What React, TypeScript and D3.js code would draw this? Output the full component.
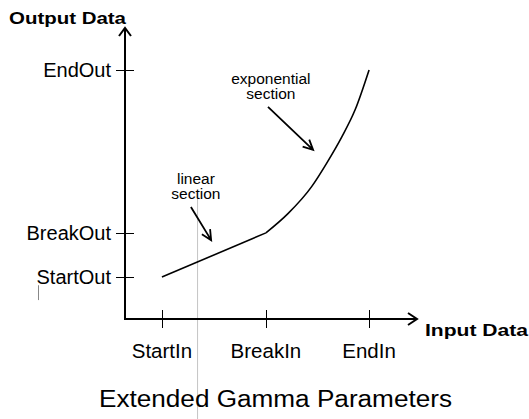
import React, { useRef, useEffect } from 'react'
import * as d3 from 'd3'

// axis tick labels and where they sit (data units, 0..100 on both axes)
const inputLabels = ['StartIn', 'BreakIn', 'EndIn']
const inputValues = [12.6, 48.1, 83.3]
const outputLabels = ['StartOut', 'BreakOut', 'EndOut']
const outputValues = [14.4, 29.6, 85.6]

// linear section: StartIn/StartOut -> BreakIn/BreakOut
const linearIn = [12.6, 48.1]
const linearOut = [14.4, 29.6]

// exponential section: BreakIn/BreakOut -> EndIn/EndOut
const expIn = [48.1, 55.7, 63.7, 68.8, 74.0, 78.5, 83.3]
const expOut = [29.6, 36.3, 45.5, 53.5, 62.6, 71.8, 85.6]

// callouts: text lines, label centre, arrow from -> to (data units)
const notes = [
  { lines: ['linear', 'section'], lx: 24.2, ly: 46.4, from: [22.5, 38.5], to: [29.4, 27.1] },
  { lines: ['exponential', 'section'], lx: 49.8, ly: 80.9, from: [48.8, 72.9], to: [64.2, 58.1] },
]

const title = 'Extended Gamma Parameters'

export default function App() {
  const svgEl = useRef<SVGSVGElement | null>(null)

  useEffect(() => {
    if (!svgEl.current) return
    const width = 529
    const height = 419
    const svg = d3.select(svgEl.current)
    svg.selectAll('*').remove()
    svg.append('rect').attr('width', width).attr('height', height).attr('fill', '#fff')

    const x = d3.scaleLinear().domain([0, 100]).range([125, 418])
    const y = d3.scaleLinear().domain([0, 100]).range([319, 28])
    const font = 'Liberation Sans, Arial, Helvetica, sans-serif'

    // stray grey guide lines from the original drawing
    svg.append('line')
      .attr('x1', x(24.6) + 0.5).attr('x2', x(24.6) + 0.5)
      .attr('y1', y(42.3)).attr('y2', height)
      .attr('stroke', '#c4c4c4').attr('stroke-width', 1)
    svg.append('line')
      .attr('x1', 38.5).attr('x2', 38.5)
      .attr('y1', y(11.6)).attr('y2', y(6.5))
      .attr('stroke', '#888').attr('stroke-width', 1)

    // axes
    const axes = svg.append('g').attr('stroke', '#000').attr('fill', 'none')
    axes.append('line').attr('x1', x(0)).attr('y1', y(0)).attr('x2', x(0)).attr('y2', y(100)).attr('stroke-width', 2)
    axes.append('line').attr('x1', x(0) - 1).attr('y1', y(0)).attr('x2', x(100) - 1).attr('y2', y(0)).attr('stroke-width', 2)
    axes.append('path')
      .attr('d', `M${x(0) - 6},${y(100) + 8}L${x(0)},${y(100)}L${x(0) + 6},${y(100) + 8}`)
      .attr('stroke-width', 2)
    axes.append('path')
      .attr('d', `M${x(100) - 10},${y(0) - 6}L${x(100) - 1},${y(0)}L${x(100) - 10},${y(0) + 6}`)
      .attr('stroke-width', 2)

    // ticks crossing the axes
    axes.selectAll('.xt').data(inputValues).enter().append('line')
      .attr('x1', d => Math.round(x(d)) + 0.5).attr('x2', d => Math.round(x(d)) + 0.5)
      .attr('y1', y(0) - 9).attr('y2', y(0) + 9).attr('stroke-width', 1)
    axes.selectAll('.yt').data(outputValues).enter().append('line')
      .attr('y1', d => Math.round(y(d)) + 0.5).attr('y2', d => Math.round(y(d)) + 0.5)
      .attr('x1', x(0) - 9).attr('x2', x(0) + 9).attr('stroke-width', 1)

    svg.selectAll('.xl').data(inputLabels).enter().append('text')
      .attr('x', (d, i) => x(inputValues[i]))
      .attr('y', 358)
      .attr('text-anchor', 'middle')
      .attr('font-family', font).attr('font-size', 20.5)
      .text(d => d)
    svg.selectAll('.yl').data(outputLabels).enter().append('text')
      .attr('x', 111)
      .attr('y', (d, i) => y(outputValues[i]))
      .attr('dy', '0.34em')
      .attr('text-anchor', 'end')
      .attr('font-family', font).attr('font-size', 20)
      .text(d => d)

    // axis names
    svg.append('text').attr('x', 9).attr('y', 24)
      .attr('font-family', font).attr('font-weight', 'bold').attr('font-size', 17)
      .attr('textLength', 117).attr('lengthAdjust', 'spacingAndGlyphs')
      .text('Output Data')
    svg.append('text').attr('x', 425).attr('y', 336)
      .attr('font-family', font).attr('font-weight', 'bold').attr('font-size', 17)
      .attr('textLength', 103).attr('lengthAdjust', 'spacingAndGlyphs')
      .text('Input Data')

    // the gamma curve
    const lin = d3.line<number>().x(d => x(d)).y((d, i) => y(linearOut[i]))
    svg.append('path').attr('d', lin(linearIn))
      .attr('fill', 'none').attr('stroke', '#000').attr('stroke-width', 1.6)
    const expo = d3.line<number>().x(d => x(d)).y((d, i) => y(expOut[i])).curve(d3.curveMonotoneX)
    svg.append('path').attr('d', expo(expIn))
      .attr('fill', 'none').attr('stroke', '#000').attr('stroke-width', 1.6)

    // callouts
    notes.forEach(n => {
      const t = svg.append('text')
        .attr('x', x(n.lx)).attr('y', y(n.ly))
        .attr('text-anchor', 'middle')
        .attr('font-family', font).attr('font-size', 15.5)
      n.lines.forEach((l, i) => {
        t.append('tspan').attr('x', x(n.lx)).attr('dy', i === 0 ? 0 : 15.5).text(l)
      })
      const x1 = x(n.from[0]), y1 = y(n.from[1])
      const x2 = x(n.to[0]), y2 = y(n.to[1])
      const a = Math.atan2(y2 - y1, x2 - x1)
      const h = 11, spread = 0.45
      const p1 = [x2 - h * Math.cos(a - spread), y2 - h * Math.sin(a - spread)]
      const p2 = [x2 - h * Math.cos(a + spread), y2 - h * Math.sin(a + spread)]
      svg.append('path')
        .attr('d', `M${x1},${y1}L${x2},${y2}M${p1[0]},${p1[1]}L${x2},${y2}L${p2[0]},${p2[1]}`)
        .attr('fill', 'none').attr('stroke', '#000').attr('stroke-width', 1.8)
    })

    svg.append('text').attr('x', 99).attr('y', 407)
      .attr('font-family', font).attr('font-size', 23.5)
      .attr('textLength', 353).attr('lengthAdjust', 'spacingAndGlyphs')
      .text(title)
  }, [svgEl.current])

  return (
    <svg
      ref={svgEl}
      width={529}
      height={419}
      style={{ position: 'absolute', left: 0, top: 0, display: 'block' }}
    />
  )
}
